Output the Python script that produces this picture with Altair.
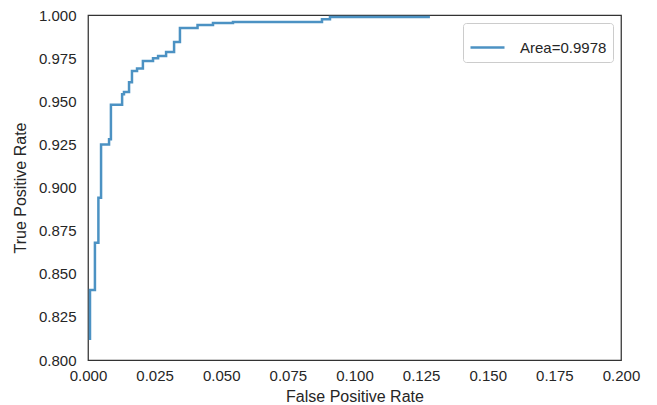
import altair as alt
import pandas as pd

# ROC curve points (step-after): false positive rate where the jump happens, true positive rate after it
fpr = [0.00075, 0.00075, 0.0026, 0.0039, 0.0049, 0.0079, 0.0086, 0.0128, 0.0135,
       0.0154, 0.0165, 0.0184, 0.0206, 0.0244, 0.0263, 0.0293, 0.0323, 0.0345,
       0.0411, 0.0469, 0.0544, 0.0878, 0.0908, 0.1283]
tpr = [0.8116, 0.8406, 0.868, 0.894, 0.925, 0.928, 0.948, 0.954, 0.9553,
       0.961, 0.9675, 0.969, 0.9733, 0.975, 0.9762, 0.9786, 0.9843, 0.9925,
       0.9942, 0.9954, 0.996, 0.9975, 0.9988, 0.9988]
label = "Area=0.9978"
x_ticks = [0.0, 0.025, 0.05, 0.075, 0.1, 0.125, 0.15, 0.175, 0.2]
y_ticks = [0.8, 0.825, 0.85, 0.875, 0.9, 0.925, 0.95, 0.975, 1.0]

df = pd.DataFrame({"fpr": fpr, "tpr": tpr, "label": [label] * len(fpr), "order": list(range(len(fpr)))})

FONT = "Liberation Sans"
TXT = "#262626"

chart = (
    alt.Chart(df)
    .mark_line(interpolate="step-after", strokeWidth=2.5, clip=True)
    .encode(
        x=alt.X("fpr:Q", scale=alt.Scale(domain=[0, 0.2], nice=False),
                axis=alt.Axis(values=x_ticks, format=".3f", title="False Positive Rate",
                              labelPadding=8, titlePadding=5, labelFlush=False)),
        y=alt.Y("tpr:Q", scale=alt.Scale(domain=[0.8, 1.0], nice=False, zero=False),
                axis=alt.Axis(values=y_ticks, format=".3f", title="True Positive Rate",
                              labelPadding=12, titlePadding=10, labelFlush=False)),
        order="order:Q",
        color=alt.Color("label:N", scale=alt.Scale(domain=[label], range=["#4c92c3"]),
                        legend=alt.Legend(title=None, orient="none", legendX=375, legendY=8)),
    )
    .properties(width=533, height=345, padding={"left": 80, "top": 7, "right": 28, "bottom": 48},
                autosize=alt.AutoSizeParams(type="none"))
    .configure_view(stroke="#333333", strokeWidth=1.25)
    .configure_axis(
        grid=False, domain=False, ticks=False,
        labelFont=FONT, labelFontSize=15, labelColor=TXT,
        titleFont=FONT, titleFontSize=16, titleColor=TXT, titleFontWeight="normal",
    )
    .configure_legend(
        symbolType="stroke", symbolSize=1156, symbolStrokeWidth=2.5,
        labelFont=FONT, labelFontSize=15, labelColor=TXT, labelOffset=14,
        padding=6, strokeColor="#cccccc", fillColor="white", cornerRadius=3,
    )
)

chart.save("out.html", embed_options={"renderer": "svg", "actions": False})
